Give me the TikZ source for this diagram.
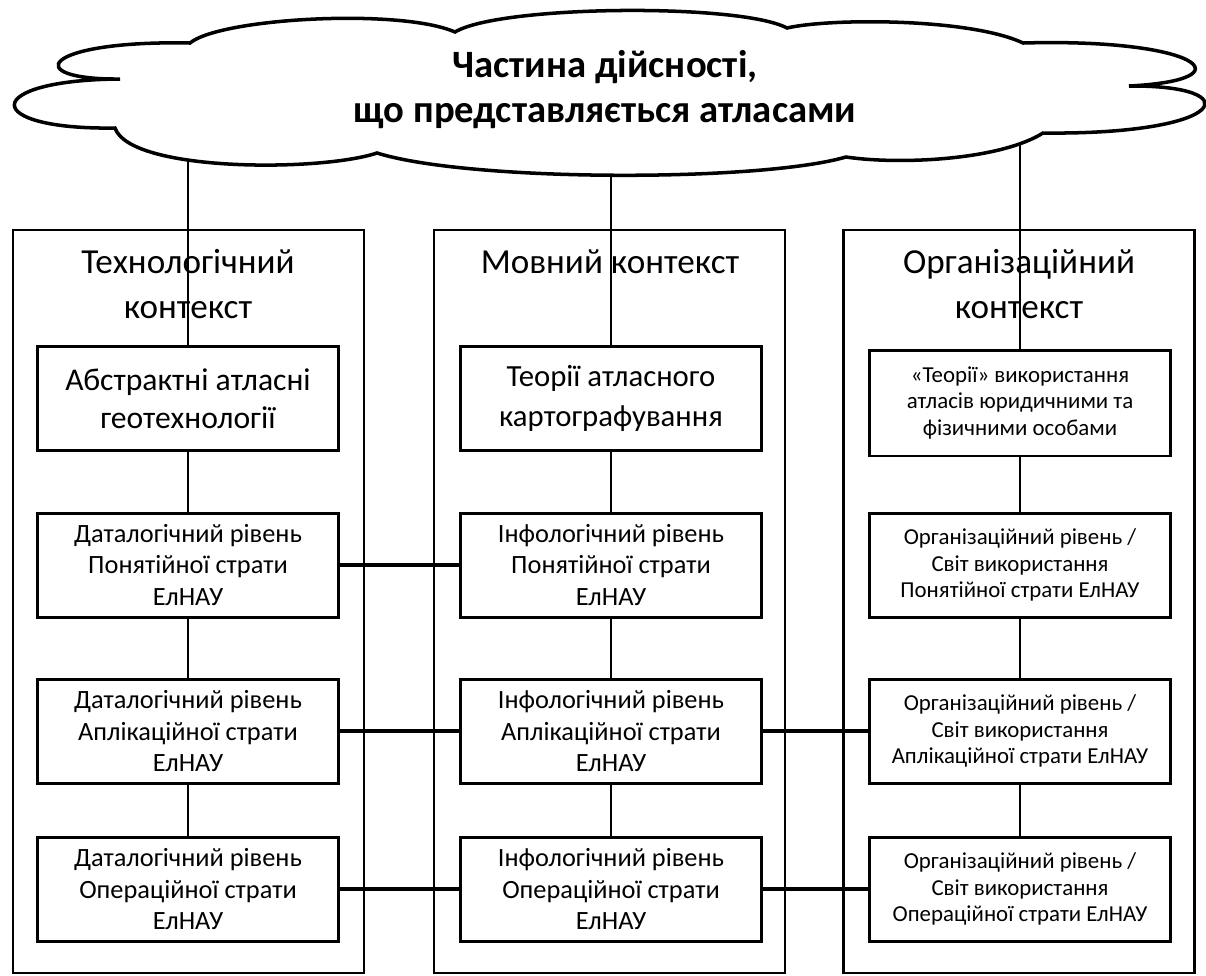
\documentclass[tikz,border=0pt]{standalone}
\usepackage{fontspec}
\setmainfont{Carlito}
\pgfdeclarelayer{back}
\pgfsetlayers{back,main}

\tikzset{
  ctx/.style={draw, line width=1.2pt, minimum width=7.02cm, minimum height=14.86cm},
  head/.style={align=center, font=\fontsize{20}{25.6}\selectfont},
  lvl/.style={draw, fill=white, line width=1.7pt, align=center, inner sep=1pt,
    minimum width=6.04cm, minimum height=2.08cm},
  txtmid/.style={font=\fontsize{15}{18}\selectfont},
  txtsmall/.style={font=\fontsize{13}{15}\selectfont},
  link/.style={line width=1.2pt},
  hlink/.style={line width=1.8pt},
}

\begin{document}
\begin{tikzpicture}[x=0.02cm,y=-0.02cm]
\useasboundingbox (0,0) rectangle (1206,975);

% cloud
\draw[line width=2pt, fill=white] (190,43)
  .. controls (220,18) and (400,8) .. (455,32)
  .. controls (500,5) and (740,3) .. (787,28)
  .. controls (830,18) and (970,18) .. (1023,43)
  .. controls (1200,38) and (1250,80) .. (1129,86)
  .. controls (1250,85) and (1230,135) .. (1043,133)
  .. controls (1000,160) and (900,165) .. (846,157)
  .. controls (760,182) and (470,182) .. (377,153)
  .. controls (320,172) and (130,172) .. (115,128)
  .. controls (-20,130) and (-20,80) .. (120,79)
  .. controls (20,80) and (40,40) .. (190,43) -- cycle;
\node[align=center, font=\bfseries\fontsize{22}{25.6}\selectfont] (cloud) at (605,90)
  {Частина дійсності,\\що представляється атласами};

% contexts
\node[ctx] (techctx) at (188.5,601.5) {};
\node[ctx] (langctx) at (609.5,601.5) {};
\node[ctx] (orgctx) at (1019,601.5) {};
\node[head] (techhead) at (188,284) {Технологічний\\контекст};
\node[head] (langhead) at (610,262) {Мовний контекст};
\node[head] (orghead) at (1019,284) {Організаційний\\контекст};

% levels
\node[lvl, font=\fontsize{18}{21.5}\selectfont] (tech1) at (188,398.5) {Абстрактні атласні\\геотехнології};
\node[lvl, txtmid] (tech2) at (188,565) {Даталогічний рівень\\Понятійної страти\\ЕлНАУ};
\node[lvl, txtmid] (tech3) at (188,731) {Даталогічний рівень\\Аплікаційної страти\\ЕлНАУ};
\node[lvl, txtmid] (tech4) at (188,889) {Даталогічний рівень\\Операційної страти\\ЕлНАУ};

\node[lvl, font=\fontsize{17.5}{23}\selectfont] (lang1) at (611,398.5) {Теорії атласного\\картографування};
\node[lvl, txtmid] (lang2) at (611,565) {Інфологічний рівень\\Понятійної страти\\ЕлНАУ};
\node[lvl, txtmid] (lang3) at (611,731) {Інфологічний рівень\\Аплікаційної страти\\ЕлНАУ};
\node[lvl, txtmid] (lang4) at (611,889) {Інфологічний рівень\\Операційної страти\\ЕлНАУ};

\node[lvl, txtsmall, minimum height=2.12cm] (org1) at (1020,403) {«Теорії» використання\\атласів юридичними та\\фізичними особами};
\node[lvl, txtsmall] (org2) at (1020,565) {Організаційний рівень /\\Світ використання\\Понятійної страти ЕлНАУ};
\node[lvl, txtsmall] (org3) at (1020,731) {Організаційний рівень /\\Світ використання\\Аплікаційної страти ЕлНАУ};
\node[lvl, txtsmall] (org4) at (1020,889) {Організаційний рівень /\\Світ використання\\Операційної страти ЕлНАУ};

% links, kept under the cloud
\begin{pgfonlayer}{back}
\draw[link] (cloud.center -| tech1) -- (tech1);
\draw[link] (cloud.center -| lang1) -- (lang1);
\draw[link] (cloud.center -| org1) -- (org1);
\draw[link] (tech1) -- (tech2);
\draw[link] (tech2) -- (tech3);
\draw[link] (tech3) -- (tech4);
\draw[link] (lang1) -- (lang2);
\draw[link] (lang2) -- (lang3);
\draw[link] (lang3) -- (lang4);
\draw[link] (org1) -- (org2);
\draw[link] (org2) -- (org3);
\draw[link] (org3) -- (org4);
\draw[hlink] (tech2) -- (lang2);
\draw[hlink] (tech3) -- (lang3);
\draw[hlink] (lang3) -- (org3);
\draw[hlink] (tech4) -- (lang4);
\draw[hlink] (lang4) -- (org4);
\end{pgfonlayer}
\end{tikzpicture}
\end{document}
